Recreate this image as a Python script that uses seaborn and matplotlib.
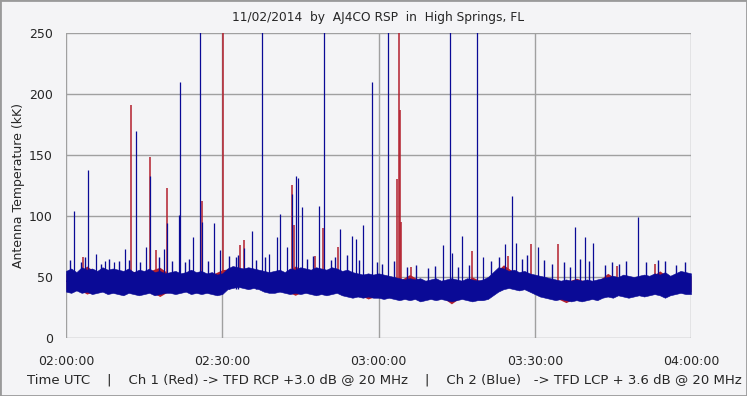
import matplotlib
matplotlib.use("Agg")
import matplotlib.pyplot as plt
from matplotlib.ticker import MultipleLocator, FuncFormatter
from matplotlib.patches import Rectangle
import pandas as pd
import seaborn as sns

# noise band of ch 2 (blue), one reading per minute after 02:00 UTC
minutes = list(range(0, 121))
blue_hi = [55, 57, 54, 58, 56, 57, 55, 58, 56, 57,
           56, 55, 57, 54, 56, 55, 57, 54, 55, 53,
           54, 55, 53, 54, 56, 54, 55, 53, 54, 52,
           53, 57, 59, 58, 57, 58, 57, 56, 55, 54,
           55, 56, 54, 57, 56, 58, 57, 56, 58, 57,
           56, 58, 57, 55, 56, 54, 53, 52, 53, 52,
           53, 52, 51, 50, 49, 48, 49, 48, 49, 47,
           48, 49, 47, 48, 49, 48, 47, 49, 48, 47,
           48, 50, 54, 58, 57, 55, 56, 54, 55, 53,
           52, 51, 50, 49, 48, 47, 48, 47, 48, 47,
           48, 47, 48, 49, 50, 51, 50, 52, 51, 50,
           51, 52, 51, 53, 52, 54, 51, 53, 55, 54,
           53]
blue_lo = [38, 37, 39, 37, 38, 36, 37, 38, 36, 37,
           36, 35, 37, 36, 35, 36, 37, 35, 36, 37,
           37, 36, 37, 38, 36, 37, 36, 37, 36, 35,
           36, 40, 41, 42, 41, 40, 41, 40, 38, 37,
           37, 38, 37, 36, 37, 36, 37, 36, 35, 36,
           35, 36, 37, 35, 34, 33, 34, 33, 34, 33,
           33, 32, 33, 32, 31, 32, 31, 32, 30, 31,
           32, 31, 32, 31, 30, 31, 32, 31, 30, 31,
           31, 32, 35, 38, 40, 41, 40, 39, 40, 38,
           36, 34, 33, 32, 31, 32, 31, 30, 31, 30,
           31, 32, 31, 33, 34, 33, 35, 34, 33, 34,
           35, 34, 35, 36, 35, 33, 35, 36, 37, 36,
           36]

# noise band of ch 1 (red), one reading every two minutes
red_minutes = list(range(0, 121, 2))
red_hi = [53, 52, 59, 53, 54, 54, 55, 54, 55, 58,
          52, 51, 54, 53, 52, 56, 57, 55, 55, 53,
          53, 52, 59, 55, 56, 54, 55, 54, 51, 51,
          51, 49, 47, 52, 47, 46, 45, 47, 45, 50,
          46, 52, 60, 54, 53, 50, 48, 46, 46, 49,
          46, 46, 53, 48, 49, 49, 49, 55, 49, 53,
          51]
red_lo = [40, 41, 36, 39, 38, 38, 39, 37, 39, 34,
          39, 39, 38, 38, 38, 38, 43, 43, 43, 40,
          39, 39, 35, 39, 37, 37, 39, 36, 36, 32,
          35, 35, 33, 33, 32, 34, 34, 28, 34, 32,
          33, 37, 42, 42, 42, 38, 35, 33, 29, 33,
          33, 33, 36, 37, 35, 37, 37, 37, 37, 39,
          38]

# bursts (minute after 02:00, peak kK); peaks above 250 run off the chart
blue_spike_t = [1.6, 4.3, 5.8, 7.4, 9.2, 11.4, 13.5, 15.4, 16.2, 18.9,
                19.4, 21.6, 21.9, 24.3, 25.7, 26.2, 28.5, 29.6, 34.2, 35.8,
                37.7, 39.0, 40.6, 41.0, 42.5, 43.4, 44.2, 44.6, 45.4, 48.6,
                49.6, 52.7, 55.0, 55.7, 57.0, 58.7, 61.8, 72.4, 73.8, 74.2,
                76.1, 79.0, 80.1, 84.3, 85.7, 86.4, 90.7, 97.8, 99.7, 101.2,
                109.9]
blue_spike_v = [104, 138, 69, 63, 62, 73, 170, 75, 133, 73,
                94, 101, 210, 83, 400, 95, 94, 72, 74, 88,
                400, 69, 83, 102, 75, 118, 133, 131, 107, 108,
                400, 89, 84, 81, 93, 210, 400, 76, 400, 70,
                84, 400, 66, 77, 116, 78, 75, 91, 83, 78,
                99]
# small bursts riding on top of the band
blue_small_t = [0.8, 2.9, 3.6, 6.7, 8.3, 10.2, 12.1, 14.3, 17.8, 20.4,
                22.8, 23.6, 27.3, 31.2, 32.6, 33.1, 36.4, 38.2, 46.3, 47.4,
                50.8, 51.6, 53.9, 56.3, 59.8, 60.6, 62.9, 65.4, 67.2, 69.5,
                70.8, 75.3, 77.4, 81.6, 83.2, 87.5, 88.6, 91.8, 93.4, 95.6,
                96.7, 98.6, 100.5, 103.4, 104.8, 106.2, 107.5, 111.3, 113.6, 115.1,
                117.2, 118.9]
blue_small_v = [64, 62, 66, 61, 65, 63, 64, 62, 66, 63,
                62, 65, 63, 67, 66, 68, 64, 66, 65, 67,
                64, 66, 68, 64, 62, 61, 63, 58, 60, 57,
                59, 58, 60, 63, 66, 65, 68, 64, 61, 62,
                58, 65, 63, 60, 62, 61, 63, 62, 64, 63,
                60, 62]
red_spike_t = [12.5, 16.2, 17.3, 19.4, 26.2, 30.1, 33.5, 34.2, 43.4, 43.8,
               49.4, 52.2, 63.6, 64.0, 64.2, 64.4, 78.0, 89.3, 94.5, 3.2,
               47.9, 66.3, 84.8, 105.7, 113.1]
red_spike_v = [191, 148, 72, 123, 112, 400, 76, 80, 125, 93,
               90, 75, 130, 400, 187, 95, 71, 77, 77, 66,
               67, 58, 67, 59, 61]

RED = "#b3202e"
BLUE = "#0a0a96"
BG = "#f4f4f6"

sns.set_style("white")
plt.rcParams["font.family"] = ["DejaVu Sans"]

fig = plt.figure(figsize=(7.47, 3.96), dpi=100, facecolor=BG)
ax = fig.add_axes([66 / 747, 1 - 338 / 396, 625 / 747, 305 / 396])
ax.set_facecolor(BG)

band_range = lambda s: (s.min(), s.max())

red_df = pd.DataFrame({"t": red_minutes + red_minutes, "v": red_lo + red_hi})
sns.lineplot(data=red_df, x="t", y="v", estimator="mean", errorbar=band_range,
             color=RED, linewidth=0.6, zorder=2,
             err_kws={"alpha": 1, "linewidth": 0, "zorder": 2}, ax=ax)
ax.vlines(red_spike_t, 45, red_spike_v, color=RED, linewidth=1.1, zorder=2)

blue_df = pd.DataFrame({"t": minutes + minutes, "v": blue_lo + blue_hi})
sns.lineplot(data=blue_df, x="t", y="v", estimator="mean", errorbar=band_range,
             color=BLUE, linewidth=0.6, zorder=3,
             err_kws={"alpha": 1, "linewidth": 0.4, "edgecolor": BLUE, "zorder": 3},
             ax=ax)
ax.vlines(blue_spike_t, 45, blue_spike_v, color=BLUE, linewidth=0.9, zorder=3)
ax.vlines(blue_small_t, 40, blue_small_v, color=BLUE, linewidth=1.0, zorder=3)

ax.set_xlim(0, 120)
ax.set_ylim(0, 250)
ax.set_xlabel("")
ax.set_ylabel("")

ax.xaxis.set_major_locator(MultipleLocator(30))
ax.xaxis.set_minor_locator(MultipleLocator(5))
ax.yaxis.set_major_locator(MultipleLocator(50))
ax.yaxis.set_minor_locator(MultipleLocator(10))
ax.xaxis.set_major_formatter(FuncFormatter(
    lambda m, p: "%02d:%02d:00" % (2 + int(m) // 60, int(m) % 60)))

ax.grid(True, which="major", color="#a0a0a0", linewidth=1, zorder=0)
ax.set_axisbelow(True)
for side in ["top", "right", "left", "bottom"]:
    ax.spines[side].set_visible(False)
ax.spines["bottom"].set_position(("outward", 5))
ax.spines["left"].set_position(("outward", 5))

ax.tick_params(axis="x", which="major", direction="out", length=6, width=1,
               color="#303030", labelsize=9, pad=1.5)
ax.tick_params(axis="x", which="minor", direction="out", length=3, width=1,
               color="#303030")
ax.tick_params(axis="y", which="major", direction="out", length=1.5, width=1,
               color="#303030", labelsize=9, pad=3)
ax.tick_params(axis="y", which="minor", direction="out", length=3, width=1,
               color="#303030")

fig.text(378 / 747, 1 - 18 / 396, "11/02/2014  by  AJ4CO RSP  in  High Springs, FL",
         ha="center", va="center", fontsize=8.8)
fig.text(19 / 747, 1 - 185 / 396, "Antenna Temperature (kK)", rotation=90,
         ha="center", va="center", fontsize=9)
fig.text(384 / 747, 1 - 380 / 396,
         "Time UTC    |    Ch 1 (Red) -> TFD RCP +3.0 dB @ 20 MHz    |    "
         "Ch 2 (Blue)   -> TFD LCP + 3.6 dB @ 20 MHz",
         ha="center", va="center", fontsize=9.5)

fig.patches.append(Rectangle((0, 0), 1, 1, transform=fig.transFigure,
                             fill=False, edgecolor="#9a9a9a", linewidth=2))

fig.savefig("out.png", dpi=100, facecolor=BG)
